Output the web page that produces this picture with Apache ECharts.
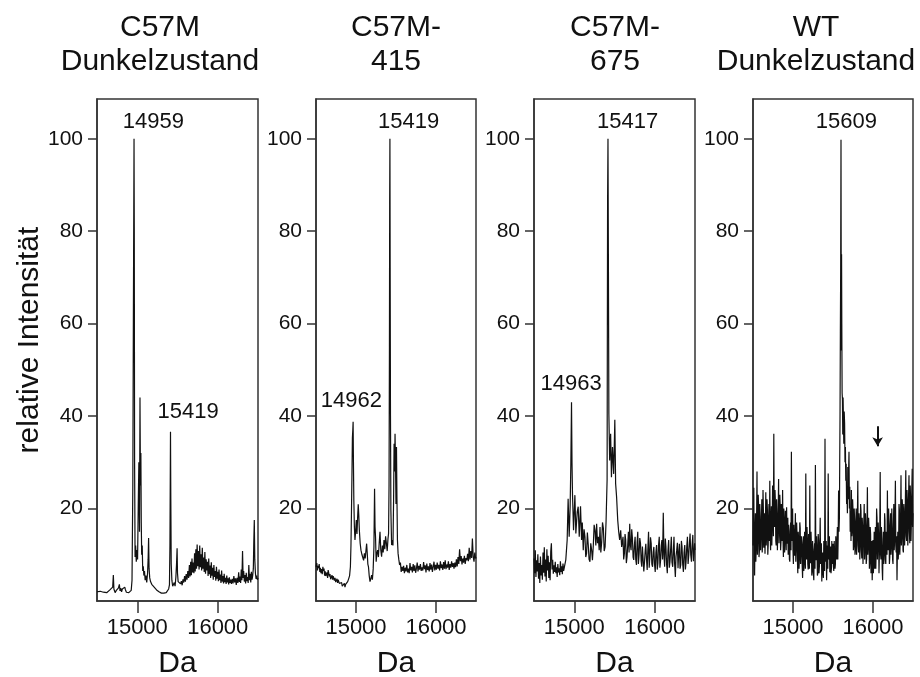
<!DOCTYPE html>
<html>
<head>
<meta charset="utf-8">
<script src="https://cdn.jsdelivr.net/npm/echarts@6/dist/echarts.min.js"></script>
<style>html,body{margin:0;padding:0;background:#fff;}#c{width:920px;height:677px;}</style>
</head>
<body>
<div id="c"></div>
<script>
// ---------- data (Da, relative intensity) ----------
const titlesTop = ['C57M', 'C57M-', 'C57M-', 'WT'];
const titlesBottom = ['Dunkelzustand', '415', '675', 'Dunkelzustand'];
const yTickValues = [20, 40, 60, 80, 100];
const xTickValues = [15000, 16000];
const yAxisTitle = 'relative Intensität';
const xAxisTitle = 'Da';

const specC57Mdark = [
[14500,2.0],[14520,1.8],[14540,2.1],[14560,1.7],[14580,1.9],[14600,2.3],[14620,1.8],[14640,2.0],[14660,2.4],[14680,2.0],
[14695,3.0],[14703,5.6],[14710,2.6],[14725,1.8],[14740,2.3],[14755,1.9],[14765,2.8],[14778,3.6],[14786,2.2],[14795,2.8],
[14805,2.0],[14815,2.6],[14830,2.2],[14845,3.0],[14852,2.5],[14865,1.9],[14880,1.7],[14895,1.8],[14910,1.6],[14925,2.3],
[14935,4.5],[14945,25],[14952,62],[14957,85],[14960,100],[14963,81],[14967,30],[14973,9.5],[14980,12],[14988,8.5],
[14996,11],[15004,9],[15012,20],[15020,30],[15028,15],[15034,44],[15040,25],[15045,32],[15050,17],[15055,10],
[15062,12],[15068,6.5],[15075,7.5],[15082,5.5],[15090,6.5],[15098,4.5],[15108,5.5],[15118,4],[15128,6],[15135,9],
[15141,13.6],[15147,7],[15155,5],[15165,4.2],[15180,3.6],[15195,3.4],[15210,3.0],[15225,2.7],[15240,2.4],[15255,2.1],
[15270,2.0],[15285,1.8],[15300,1.7],[15315,1.9],[15330,1.7],[15345,2.0],[15360,1.8],[15375,2.2],[15390,2.6],[15400,3.5],
[15406,12],[15413,36.6],[15417,22],[15422,8],[15430,4.5],[15440,3.2],[15450,3.6],[15460,4.0],[15470,3.2],[15480,5.2],
[15488,8],[15495,11.4],[15500,6],[15508,4.2],[15518,3.8],[15528,4.6],[15538,3.7],[15548,4.3],[15558,3.4],[15568,4.7],
[15578,4.0],[15588,5.4],[15598,4.2],[15608,5.8],[15618,4.6],[15628,6.5],[15638,5.0],[15648,7.8],[15656,5.3],[15664,8.5],
[15672,5.6],[15680,9.2],[15688,6.2],[15696,8.3],[15704,6.0],[15712,10.3],[15720,6.4],[15728,11.2],[15736,7.0],[15744,12.2],
[15752,7.5],[15760,10.8],[15768,6.8],[15776,12.0],[15784,7.3],[15792,10.1],[15800,6.6],[15808,11.5],[15816,7.0],[15824,9.4],
[15832,6.3],[15840,10.6],[15848,5.9],[15856,9.0],[15864,6.6],[15872,8.5],[15880,5.4],[15888,9.2],[15896,5.8],[15904,7.7],
[15912,5.0],[15920,8.4],[15928,5.5],[15936,7.2],[15944,4.6],[15952,7.8],[15960,5.2],[15968,6.5],[15976,4.4],[15984,7.4],
[15992,4.8],[16000,6.3],[16008,4.3],[16016,6.8],[16024,4.5],[16032,5.7],[16040,3.9],[16048,6.6],[16056,4.2],[16064,5.4],
[16072,3.8],[16080,5.9],[16088,4.1],[16096,5.0],[16104,3.7],[16112,5.5],[16120,4.0],[16128,4.9],[16136,3.6],[16144,5.1],
[16152,3.9],[16160,4.6],[16170,3.7],[16180,4.8],[16190,3.8],[16200,5.4],[16210,4.0],[16220,4.9],[16230,3.5],[16240,5.0],
[16250,3.9],[16260,6.2],[16268,4.1],[16276,5.3],[16284,3.9],[16292,6.8],[16300,4.5],[16308,10.8],[16315,5.0],[16322,6.5],
[16330,4.2],[16338,5.6],[16346,3.8],[16354,6.1],[16362,4.3],[16370,5.2],[16378,3.9],[16386,7.8],[16394,4.5],[16402,5.9],
[16410,4.0],[16418,6.3],[16426,4.6],[16434,5.5],[16442,7],[16448,13],[16454,17.5],[16460,9],[16468,6],[16476,4.8],
[16484,5.5],[16492,4.6],[16500,5.0]
];

const specC57M415 = [
[14500,7.4],[14510,8.2],[14518,6.6],[14525,7.6],[14533,7.1],[14540,8.0],[14548,6.3],[14555,7.2],[14562,6.0],[14570,6.9],
[14578,5.8],[14586,7.4],[14592,6.5],[14600,7.0],[14608,5.5],[14615,6.4],[14622,5.4],[14629,5.6],[14637,6.2],[14645,5.0],
[14652,6.7],[14659,6.1],[14667,5.3],[14675,5.8],[14683,4.7],[14692,4.9],[14700,5.6],[14708,4.6],[14715,5.4],[14721,5.6],
[14730,4.4],[14738,5.0],[14746,4.1],[14755,4.2],[14763,4.8],[14770,3.9],[14777,4.6],[14784,4.9],[14792,3.8],[14800,4.2],
[14806,3.4],[14813,3.5],[14820,4.0],[14828,3.2],[14835,3.6],[14842,2.9],[14847,3.1],[14855,3.8],[14862,3.0],[14870,3.6],
[14880,3.8],[14888,3.3],[14896,4.2],[14903,3.9],[14910,4.9],[14920,5.5],[14930,7.4],[14937,12],[14943,18.9],[14950,28],
[14955,35.3],[14960,37],[14964,38.8],[14968,30],[14973,21.8],[14980,16],[14987,13.2],[14995,15],[15004,17.5],[15012,14.5],
[15020,18],[15028,20.9],[15035,18.5],[15042,15.3],[15052,12.5],[15062,11.0],[15075,10],[15085,9.6],[15095,8.8],[15105,10.3],
[15115,9.2],[15125,11],[15133,12.4],[15140,10.5],[15148,8],[15156,7.4],[15165,5.5],[15175,4.2],[15185,4.8],[15195,5.6],
[15205,4.6],[15215,7],[15224,11.7],[15232,24.3],[15238,16],[15244,13.9],[15252,8.5],[15260,10.2],[15270,11.0],[15280,9.5],
[15290,12.5],[15300,14.98],[15310,11],[15320,9.6],[15330,12],[15340,10.5],[15350,13.2],[15360,11.2],[15370,14],[15380,12.5],
[15390,10.8],[15400,13.5],[15407,14.6],[15413,25],[15418,55],[15421,86],[15424,100],[15427,72],[15431,40],[15436,19.7],
[15445,12.1],[15453,13.2],[15462,12],[15470,22],[15476,34.0],[15482,28],[15488,36.2],[15494,29.7],[15500,21],[15506,33.3],
[15512,22],[15518,13.2],[15526,10.3],[15535,9],[15545,7.8],[15555,8.3],[15565,6.3],[15575,7.4],[15585,6.5],[15595,7.6],
[15605,6.0],[15615,7.2],[15625,6.4],[15635,7.8],[15645,6.2],[15655,7.0],[15665,6.0],[15675,8.2],[15685,6.6],[15695,7.4],
[15705,6.2],[15715,8.0],[15725,6.5],[15735,7.7],[15745,6.1],[15755,7.0],[15765,8.3],[15775,6.4],[15785,7.6],[15795,6.8],
[15805,8.0],[15815,6.5],[15825,7.3],[15835,6.6],[15845,8.4],[15855,6.9],[15865,7.7],[15875,6.2],[15885,8.1],[15895,6.7],
[15905,7.5],[15915,6.4],[15925,8.2],[15935,6.8],[15945,7.9],[15955,6.3],[15965,7.4],[15975,8.5],[15985,6.6],[15995,7.8],
[16005,6.8],[16015,8.3],[16025,7.0],[16035,7.8],[16045,6.6],[16055,8.6],[16065,7.1],[16075,7.9],[16085,6.7],[16095,8.4],
[16105,7.0],[16115,8.8],[16125,6.9],[16135,7.9],[16145,7.2],[16155,8.6],[16165,6.7],[16175,8.0],[16185,7.2],[16195,8.6],
[16205,7.4],[16215,8.2],[16225,7.0],[16235,8.3],[16245,7.3],[16255,9.0],[16265,7.5],[16275,9.5],[16285,8.0],[16295,11.2],
[16305,8.6],[16315,9.7],[16325,7.9],[16335,9.2],[16345,8.3],[16355,9.8],[16365,8.0],[16375,9.3],[16385,8.8],[16395,10.2],
[16405,8.6],[16415,11.5],[16425,9.0],[16435,10.8],[16445,9.3],[16455,13.5],[16465,9.6],[16475,8.5],[16485,10.5],[16495,9.2],
[16500,9.5]
];

const specC57M675 = [
[14500,9.2],[14508,6.0],[14516,11.0],[14524,5.2],[14532,8.8],[14540,6.4],[14548,10.1],[14556,4.8],[14564,8.2],[14572,3.9],
[14580,9.6],[14588,5.5],[14596,7.8],[14604,4.6],[14612,10.5],[14620,6.1],[14628,11.6],[14636,5.3],[14644,9.0],[14652,4.2],
[14660,11.2],[14668,6.6],[14676,9.8],[14684,5.0],[14692,8.4],[14700,4.5],[14708,10.7],[14716,12.5],[14724,6.8],[14732,8.9],
[14740,5.9],[14748,7.7],[14756,6.3],[14764,8.5],[14772,6.0],[14780,7.3],[14788,5.2],[14796,8.0],[14804,6.2],[14812,7.1],
[14820,5.6],[14828,8.6],[14836,6.3],[14844,7.5],[14852,5.8],[14860,8.1],[14868,6.5],[14876,7.2],[14884,7.4],[14895,8.9],
[14912,13.2],[14924,22.1],[14937,13.9],[14949,20.4],[14958,30],[14966,43.0],[14972,30],[14978,23.2],[14991,15.3],[15008,22.9],
[15020,14.6],[15037,19.3],[15049,20.4],[15062,13.9],[15078,20.5],[15091,13.2],[15100,17.0],[15112,11.0],[15122,15.5],[15133,13.9],
[15143,9.5],[15153,10.3],[15163,14.8],[15174,12.1],[15184,9.0],[15195,8.5],[15205,12.5],[15216,11.0],[15226,8.8],[15237,12.1],
[15247,16.5],[15258,15.3],[15268,12.0],[15278,16.7],[15289,12.5],[15299,13.9],[15310,11.0],[15320,16.0],[15330,10.5],[15341,12.8],
[15351,17.0],[15362,15.7],[15372,10.8],[15383,11.7],[15395,17.1],[15408,26.1],[15414,86],[15419,100],[15424,75],[15430,40.5],
[15440,30.4],[15452,36.2],[15462,26.8],[15475,33.3],[15490,27.5],[15504,39.2],[15514,25.4],[15526,22.5],[15540,17.5],[15552,15.0],
[15564,13.2],[15577,15.3],[15589,11.7],[15606,13.9],[15614,9.0],[15623,10.3],[15631,14.5],[15639,13.2],[15647,8.2],[15656,9.6],
[15664,12.0],[15673,15.0],[15681,10.5],[15689,16.7],[15697,12.2],[15706,11.0],[15714,15.5],[15723,13.5],[15731,9.5],[15739,8.9],
[15747,12.0],[15756,13.9],[15764,9.0],[15773,7.8],[15781,12.6],[15789,15.0],[15797,8.0],[15806,10.3],[15814,13.6],[15823,12.4],
[15831,8.6],[15839,7.4],[15847,11.8],[15856,11.7],[15864,6.4],[15873,8.5],[15881,10.8],[15889,12.4],[15897,9.2],[15906,6.7],
[15914,11.0],[15923,15.0],[15931,7.2],[15939,9.6],[15947,13.8],[15956,12.4],[15964,8.0],[15973,7.4],[15981,10.6],[15989,11.7],
[15997,8.0],[16006,6.3],[16014,10.4],[16023,12.1],[16031,6.8],[16039,8.1],[16047,12.0],[16056,13.9],[16064,7.2],[16073,8.9],
[16081,12.0],[16089,13.2],[16097,9.0],[16106,19.1],[16114,10.0],[16123,7.4],[16131,13.5],[16139,11.7],[16147,8.0],[16156,6.0],
[16164,10.8],[16173,13.2],[16181,7.2],[16189,8.5],[16197,11.0],[16206,13.9],[16214,8.4],[16223,7.4],[16231,10.8],[16239,13.9],
[16247,8.0],[16256,5.2],[16264,9.6],[16273,11.0],[16281,12.6],[16289,7.1],[16297,10.2],[16306,12.4],[16314,7.0],[16323,7.8],
[16331,13.0],[16339,11.7],[16347,8.0],[16356,6.3],[16364,10.4],[16373,12.1],[16381,6.8],[16389,8.5],[16397,11.5],[16406,13.9],
[16414,8.0],[16423,10.0],[16431,12.6],[16439,14.6],[16447,10.0],[16456,8.5],[16464,12.0],[16473,14.3],[16481,8.6],[16490,10.3],
[16495,12.5],[16500,11.0]
];

const specWTdark = [
[14500,12.0],[14505,20.0],[14510,24.5],[14515,9.0],[14520,5.5],[14525,15.0],[14530,19.0],[14535,8.5],[14540,11.2],[14545,18.0],
[14550,28.0],[14555,10.0],[14560,13.5],[14565,23.0],[14570,20.6],[14575,9.5],[14580,10.8],[14585,21.0],[14590,18.4],[14595,11.0],
[14600,14.2],[14605,17.0],[14610,22.0],[14615,10.5],[14620,12.5],[14625,24.0],[14630,19.6],[14635,11.5],[14640,15.0],[14645,19.0],
[14650,10.2],[14655,16.0],[14660,23.5],[14665,12.0],[14670,14.0],[14675,22.0],[14680,19.8],[14685,10.0],[14690,12.2],[14695,18.0],
[14700,21.0],[14705,13.0],[14710,26.0],[14715,15.0],[14720,11.0],[14725,17.5],[14730,20.5],[14735,12.0],[14740,15.8],[14745,25.0],
[14750,22.3],[14755,14.0],[14760,36.2],[14765,18.0],[14770,16.0],[14775,24.0],[14780,21.5],[14785,13.0],[14790,12.0],[14795,22.0],
[14800,19.0],[14805,11.0],[14810,15.5],[14815,19.0],[14820,26.4],[14825,12.5],[14830,14.8],[14835,23.0],[14840,20.7],[14845,11.0],
[14850,12.9],[14855,21.0],[14860,18.3],[14865,13.0],[14870,24.0],[14875,14.0],[14880,9.5],[14885,20.0],[14890,17.5],[14895,10.5],
[14900,13.0],[14905,19.5],[14910,16.8],[14915,11.0],[14920,20.3],[14925,14.0],[14930,12.4],[14935,18.0],[14940,10.0],[14945,16.5],
[14950,15.2],[14955,9.0],[14960,8.5],[14965,14.0],[14970,17.0],[14975,11.0],[14980,32.3],[14985,13.0],[14990,14.5],[14995,20.0],
[15000,11.0],[15005,8.0],[15010,16.5],[15015,12.0],[15020,9.8],[15025,14.0],[15030,19.0],[15035,8.5],[15040,12.0],[15045,17.0],
[15050,14.6],[15055,9.0],[15060,6.0],[15065,15.0],[15070,13.5],[15075,7.0],[15080,9.2],[15085,17.0],[15090,15.8],[15095,8.0],
[15100,8.0],[15105,14.0],[15110,12.6],[15115,7.5],[15120,5.0],[15125,12.0],[15130,14.0],[15135,6.5],[15140,8.4],[15145,15.0],
[15150,11.5],[15155,7.0],[15160,27.6],[15165,10.0],[15170,9.0],[15175,16.0],[15180,13.2],[15185,8.0],[15190,6.8],[15195,14.5],
[15200,11.8],[15205,7.0],[15210,25.0],[15215,9.5],[15220,8.2],[15225,15.0],[15230,12.0],[15235,5.5],[15240,6.4],[15245,13.0],
[15250,10.6],[15255,6.0],[15260,4.5],[15265,11.0],[15270,12.5],[15275,7.0],[15280,29.4],[15285,10.0],[15290,8.8],[15295,14.0],
[15300,11.4],[15305,5.5],[15310,6.0],[15315,14.5],[15320,13.0],[15325,6.0],[15330,7.5],[15335,12.0],[15340,18.0],[15345,8.0],
[15350,9.0],[15355,12.5],[15360,4.2],[15365,9.0],[15370,10.5],[15375,6.0],[15380,5.0],[15385,13.0],[15390,11.6],[15395,6.5],
[15400,35.1],[15405,10.0],[15410,8.5],[15415,13.0],[15420,4.5],[15425,9.0],[15430,12.0],[15435,7.0],[15440,27.6],[15445,9.0],
[15450,10.0],[15455,14.0],[15460,6.2],[15465,10.0],[15470,11.8],[15475,6.0],[15480,7.0],[15485,13.0],[15490,8.0],[15495,11.0],
[15500,12.4],[15505,7.5],[15510,6.5],[15515,13.0],[15520,10.3],[15525,7.0],[15530,8.0],[15535,14.0],[15540,12.0],[15545,9.0],
[15550,12.4],[15555,16.0],[15560,9.0],[15565,14.0],[15570,23.9],[15575,15.0],[15580,18.0],[15584,30.0],[15588,40.5],[15592,58.0],
[15596,71.5],[15600,99.8],[15604,54.2],[15607,75.0],[15610,60.0],[15614,45.0],[15618,43.7],[15622,36.0],[15626,44.0],[15630,40.0],
[15635,34.0],[15640,41.0],[15645,38.5],[15650,30.0],[15655,33.3],[15660,26.0],[15665,29.7],[15670,21.0],[15675,23.2],[15680,19.0],
[15685,29.0],[15690,22.0],[15695,28.0],[15700,32.3],[15705,20.0],[15710,24.7],[15715,15.0],[15720,18.0],[15725,13.0],[15730,24.0],
[15735,14.0],[15740,15.5],[15745,22.0],[15750,19.7],[15755,11.0],[15760,12.0],[15765,20.0],[15770,17.5],[15775,10.0],[15780,11.0],
[15785,17.0],[15790,20.0],[15795,10.0],[15800,13.5],[15805,18.0],[15810,26.0],[15815,12.0],[15820,10.5],[15825,19.0],[15830,17.2],
[15835,9.0],[15840,12.0],[15845,21.0],[15850,19.5],[15855,11.0],[15860,9.2],[15865,18.0],[15870,16.0],[15875,8.0],[15880,13.0],
[15885,17.0],[15890,21.0],[15895,9.0],[15900,11.0],[15905,19.0],[15910,16.5],[15915,8.0],[15920,9.0],[15925,16.0],[15930,24.6],
[15935,10.0],[15940,12.0],[15945,18.0],[15950,15.8],[15955,7.0],[15960,8.6],[15965,16.0],[15970,14.5],[15975,6.0],[15980,10.0],
[15985,13.0],[15990,4.5],[15995,9.0],[16000,13.2],[16005,6.0],[16010,9.5],[16015,15.0],[16020,7.0],[16025,12.0],[16030,16.0],
[16035,7.0],[16040,11.0],[16045,20.0],[16050,18.0],[16055,9.0],[16060,8.8],[16065,17.0],[16070,14.0],[16075,6.0],[16080,10.4],
[16085,16.0],[16090,27.9],[16095,10.0],[16100,9.0],[16105,16.0],[16110,13.5],[16115,7.0],[16120,4.5],[16125,11.0],[16130,15.0],
[16135,8.0],[16140,10.2],[16145,19.0],[16150,17.5],[16155,9.0],[16160,8.0],[16165,15.0],[16170,14.6],[16175,10.0],[16180,23.9],
[16185,12.0],[16190,11.0],[16195,20.0],[16200,16.8],[16205,8.0],[16210,9.5],[16215,16.0],[16220,19.0],[16225,10.0],[16230,12.0],
[16235,20.0],[16240,15.5],[16245,9.0],[16250,8.0],[16255,16.0],[16260,21.0],[16265,11.0],[16270,13.0],[16275,19.0],[16280,26.0],
[16285,12.0],[16290,10.5],[16295,14.0],[16300,4.5],[16305,11.0],[16310,15.0],[16315,9.0],[16320,11.0],[16325,21.0],[16330,19.6],
[16335,10.0],[16340,13.0],[16345,18.0],[16350,27.2],[16355,12.0],[16360,14.0],[16365,22.0],[16370,20.0],[16375,11.0],[16380,10.5],
[16385,21.0],[16390,18.5],[16395,12.0],[16400,15.0],[16405,22.0],[16410,28.3],[16415,14.0],[16420,13.0],[16425,24.0],[16430,21.5],
[16435,12.0],[16440,16.0],[16445,23.0],[16450,27.2],[16455,15.0],[16460,12.5],[16465,25.0],[16470,22.0],[16475,13.0],[16480,17.0],
[16485,24.0],[16490,28.6],[16495,16.0],[16500,19.0]
];

// peak annotation labels: [Da of label centre, intensity of label centre, text]
const labelsC57Mdark = [[15200, 103.7, '14959'], [15631, 40.8, '15419']];
const labelsC57M415 = [[15658, 103.7, '15419'], [14943, 43.2, '14962']];
const labelsC57M675 = [[15662, 103.7, '15417'], [14962, 46.9, '14963']];
const labelsWTdark = [[15668, 103.7, '15609']];

// arrow in WT panel: [Da, start intensity, end intensity]
const arrowWT = [16058, 37.8, 33.5];

// ---------- layout ----------
const FONT = '"Liberation Sans", Arial, Helvetica, sans-serif';
const INK = '#111';
const FRAME = '#333';
const panels = [
  {left: 97, width: 161, spec: specC57Mdark, labels: labelsC57Mdark, titleX: 160},
  {left: 316, width: 160, spec: specC57M415, labels: labelsC57M415, titleX: 396},
  {left: 534, width: 161, spec: specC57M675, labels: labelsC57M675, titleX: 615},
  {left: 753, width: 160, spec: specWTdark, labels: labelsWTdark, titleX: 816}
];

const grid = [], xAxis = [], yAxis = [], series = [], graphic = [];
panels.forEach((p, i) => {
  grid.push({left: p.left, top: 99, width: p.width, height: 502, show: true, containLabel: false,
    outerBoundsMode: 'none',
    borderColor: FRAME, borderWidth: 1.5, backgroundColor: 'transparent'});
  xAxis.push({type: 'value', gridIndex: i, min: 14500, max: 16500,
    axisLine: {show: true, onZero: false, lineStyle: {color: FRAME, width: 1.5}},
    axisTick: {show: true, customValues: xTickValues, length: 12, lineStyle: {color: FRAME, width: 1.5}},
    axisLabel: {customValues: xTickValues, formatter: v => String(v), fontSize: 22, color: INK, margin: 16, fontFamily: FONT},
    splitLine: {show: false},
    name: xAxisTitle, nameLocation: 'middle', nameGap: 48,
    nameTextStyle: {fontSize: 30, color: INK, fontFamily: FONT}});
  yAxis.push({type: 'value', gridIndex: i, min: 0, max: 108.6,
    axisLine: {show: true, onZero: false, lineStyle: {color: FRAME, width: 1.5}},
    axisTick: {show: true, customValues: yTickValues, length: 9, lineStyle: {color: FRAME, width: 1.5}},
    axisLabel: {customValues: yTickValues, fontSize: 21, color: INK, margin: 14, fontFamily: FONT},
    splitLine: {show: false}});
  const s = {type: 'line', xAxisIndex: i, yAxisIndex: i, data: p.spec, showSymbol: false,
    symbol: 'none', lineStyle: {color: INK, width: 1.2}, animation: false, silent: true};
  if (i === 3) {
    s.markLine = {silent: true, symbol: ['none', 'arrow'], symbolSize: [8, 9], animation: false,
      lineStyle: {color: INK, width: 2, type: 'solid'}, label: {show: false},
      data: [[{coord: [arrowWT[0], arrowWT[1]]}, {coord: [arrowWT[0], arrowWT[2]]}]]};
  }
  series.push(s);
  series.push({type: 'scatter', xAxisIndex: i, yAxisIndex: i, data: p.labels, symbolSize: 0,
    animation: false, silent: true, itemStyle: {opacity: 1},
    label: {show: true, position: 'inside', formatter: prm => prm.value[2], fontSize: 22, color: INK,
      opacity: 1, fontFamily: FONT}});
  graphic.push({type: 'text', x: p.titleX, y: 28, style: {text: titlesTop[i], fontSize: 30, fontFamily: FONT,
    fill: INK, align: 'center', verticalAlign: 'middle'}});
  graphic.push({type: 'text', x: p.titleX, y: 62, style: {text: titlesBottom[i], fontSize: 30, fontFamily: FONT,
    fill: INK, align: 'center', verticalAlign: 'middle'}});
});
graphic.push({type: 'text', x: 30, y: 340, rotation: Math.PI / 2,
  style: {text: yAxisTitle, fontSize: 30, fontFamily: FONT, fill: INK, align: 'center', verticalAlign: 'middle'}});

const chart = echarts.init(document.getElementById('c'), null, {renderer: 'canvas'});
chart.setOption({animation: false, backgroundColor: '#fff', grid, xAxis, yAxis, series, graphic});
</script>
</body>
</html>
